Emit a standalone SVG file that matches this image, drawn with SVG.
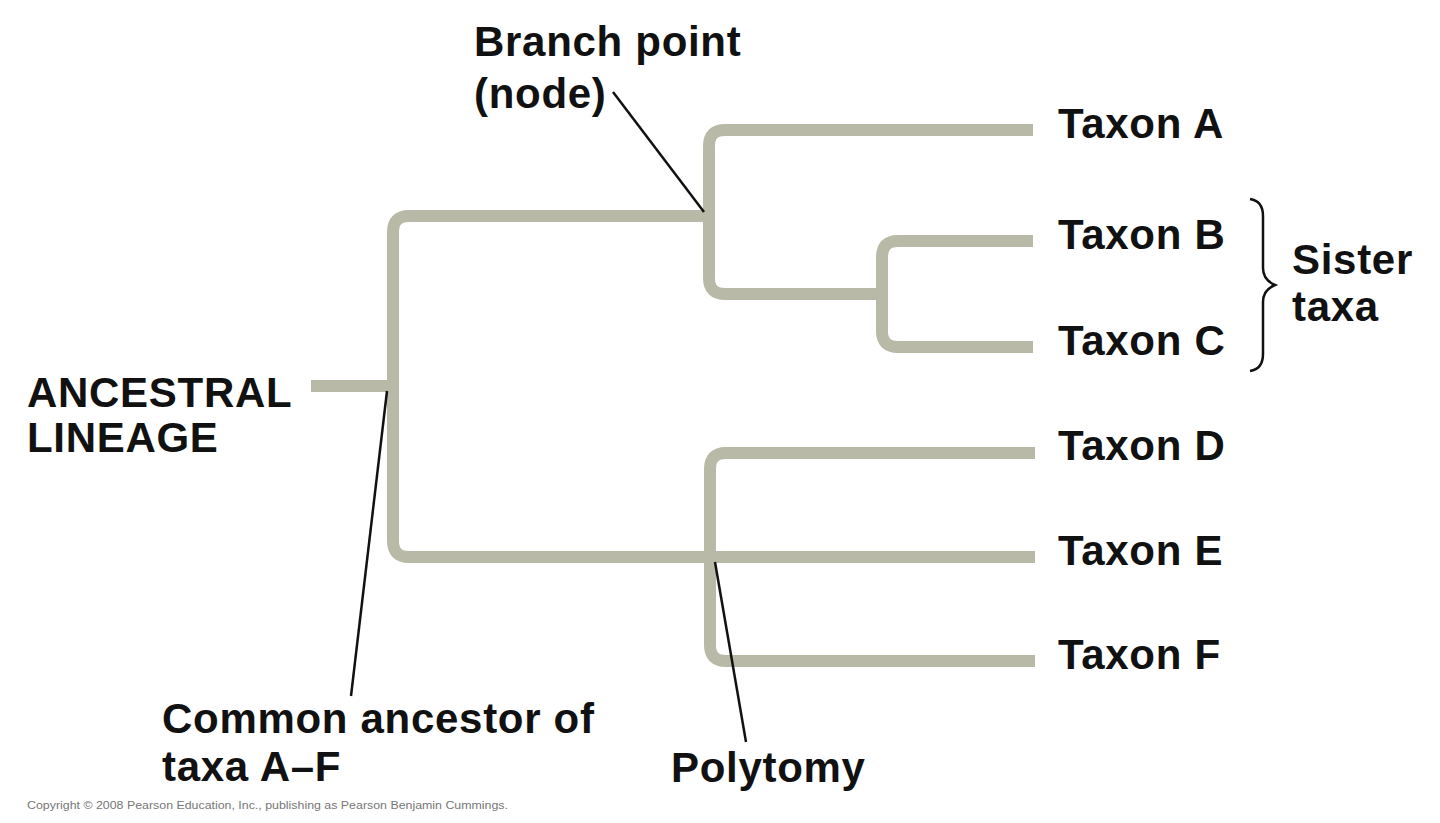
<svg xmlns="http://www.w3.org/2000/svg" width="1440" height="823" viewBox="0 0 1440 823">
<style>
.br{fill:none;stroke:#b9b9a7;stroke-width:12;stroke-linecap:butt;stroke-linejoin:round}
.ptr{fill:none;stroke:#111;stroke-width:2.5}
.lbl{font-family:"Liberation Sans",Arial,sans-serif;font-weight:bold;font-size:42px;letter-spacing:0.7px;fill:#111}
.cp{font-family:"Liberation Sans",Arial,sans-serif;font-size:10px;fill:#777}
</style>
<rect width="1440" height="823" fill="#fff"/>
<g id="connectors">
<path class="br" d="M311 386 H393"/>
<path class="br" d="M709 216 H409 Q393 216 393 232 V541 Q393 557 409 557 H1035"/>
<path class="br" d="M1033 130 H725 Q709 130 709 146 V278 Q709 294 725 294 H882"/>
<path class="br" d="M1033 241 H898 Q882 241 882 257 V331 Q882 347 898 347 H1033"/>
<path class="br" d="M1035 453 H726 Q710 453 710 469 V645 Q710 661 726 661 H1035"/>
<path class="ptr" d="M613 92 L704 212"/>
<path class="ptr" d="M387 391 L351 696"/>
<path class="ptr" d="M715 562 L746 742"/>
<path d="M1250 199 Q1263 201 1263 216 V268 Q1263 280 1275 285 Q1263 290 1263 302 V354 Q1263 369 1250 371" fill="none" stroke="#111" stroke-width="2.5"/>
</g>
<g id="ancestral"><text class="lbl" x="27" y="407">ANCESTRAL</text><text class="lbl" x="27" y="452">LINEAGE</text></g>
<g id="branchpoint"><text class="lbl" x="474" y="56">Branch point</text><text class="lbl" x="474" y="108">(node)</text></g>
<g id="taxonA"><text class="lbl" x="1058" y="138">Taxon A</text></g>
<g id="taxonB"><text class="lbl" x="1058" y="249">Taxon B</text></g>
<g id="taxonC"><text class="lbl" x="1058" y="355">Taxon C</text></g>
<g id="taxonD"><text class="lbl" x="1058" y="460">Taxon D</text></g>
<g id="taxonE"><text class="lbl" x="1058" y="565">Taxon E</text></g>
<g id="taxonF"><text class="lbl" x="1058" y="669">Taxon F</text></g>
<g id="sister"><text class="lbl" x="1292" y="274">Sister</text><text class="lbl" x="1292" y="321">taxa</text></g>
<g id="common"><text class="lbl" x="162" y="733">Common ancestor of</text><text class="lbl" x="162" y="781">taxa A–F</text></g>
<g id="polytomy"><text class="lbl" x="671" y="782">Polytomy</text></g>
<text class="cp" x="27" y="809" textLength="481" lengthAdjust="spacingAndGlyphs">Copyright © 2008 Pearson Education, Inc., publishing as Pearson Benjamin Cummings.</text>
</svg>
